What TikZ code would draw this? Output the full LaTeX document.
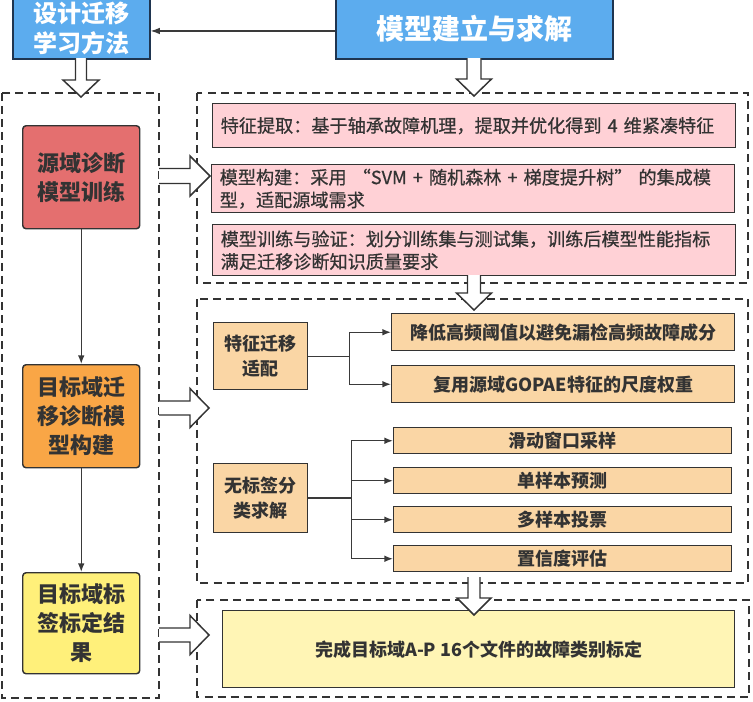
\documentclass[tikz,border=0pt]{standalone}
\usepackage{fontspec}
\setmainfont{Noto Sans CJK SC}
\newfontfamily\medfont{Noto Sans CJK SC}[FakeBold=0.6]
\usetikzlibrary{arrows.meta}
\definecolor{txt}{HTML}{333333}
\definecolor{bordc}{HTML}{333333}
\definecolor{bluec}{HTML}{5CACEE}
\definecolor{blueb}{HTML}{1F3550}
\definecolor{redc}{HTML}{E46F6F}
\definecolor{orangec}{HTML}{F9A646}
\definecolor{yellowc}{HTML}{FFF07A}
\definecolor{pinkc}{HTML}{FFD1D6}
\definecolor{lorange}{HTML}{FAD6A5}
\definecolor{lyellow}{HTML}{FFF5B5}
\definecolor{linec}{HTML}{3A3A3A}
\newcommand\hollowdown[6]{%
  \draw[hollow] (#1-#5,#2) -- (#1-#5,#3) -- (#1-#6,#3) -- (#1,#4) -- (#1+#6,#3) -- (#1+#5,#3) -- (#1+#5,#2);}
\newcommand\hollowright[6]{%
  \draw[hollow] (#2,#1-#5) -- (#3,#1-#5) -- (#3,#1-#6) -- (#4,#1) -- (#3,#1+#6) -- (#3,#1+#5) -- (#2,#1+#5);}
\begin{document}
\begin{tikzpicture}[x=0.75pt,y=-0.75pt,
  box/.style={draw=bordc, line width=1.1pt, inner sep=0pt, anchor=north west, align=center, text=txt},
  bluebox/.style={draw=blueb, line width=1.2pt, fill=bluec, inner sep=0pt, anchor=north west, align=center, text=white, font=\bfseries},
  leftbox/.style={box, rounded corners=2.5pt, minimum width=87.75pt, minimum height=77.25pt,
     font=\fontsize{16.5pt}{21.5pt}\selectfont\bfseries},
  pinkbox/.style={box, fill=pinkc, minimum width=392.25pt, text width=380.25pt, inner xsep=6pt, align=left,
     font=\fontsize{13.6pt}{17pt}\selectfont\medfont},
  obox/.style={box, fill=lorange, font=\fontsize{13.5pt}{19pt}\selectfont\bfseries},
  dashbox/.style={draw=bordc, line width=1.1pt, dash pattern=on 6pt off 3.8pt},
  hollow/.style={draw=bordc, line width=1.1pt, fill=white, line join=miter},
  conn/.style={draw=linec, line width=1pt, -{Latex[length=6.5pt,width=5pt]}},
]
\useasboundingbox (0,0) rectangle (753,701);

% top title boxes
\node[bluebox, minimum width=102.75pt, minimum height=45.75pt,
  font=\fontsize{18pt}{23pt}\selectfont\bfseries] (t1) at (12,-3) {设计迁移\\学习方法};
\node[bluebox, minimum width=207.75pt, minimum height=45.75pt,
  font=\fontsize{21pt}{25pt}\selectfont\bfseries] (t2) at (335,-3) {\raisebox{-2pt}{模型建立与求解}};
\draw[draw=linec, line width=0.9pt, -{Latex[length=7pt,width=5pt]}] ([yshift=-2pt]t2.west) -- ([yshift=-2pt]t1.east);

% dashed frames
\draw[dashbox] (2,93) rectangle (159,698);
\draw[dashbox] (197,93) rectangle (748,283);
\draw[dashbox] (197,299) rectangle (748,583);
\draw[dashbox] (197,600) rectangle (749,697);

% left column
\node[leftbox, fill=redc] (L1) at (22,125) {源域诊断\\模型训练};
\node[leftbox, fill=orangec] (L2) at (22,364) {目标域迁\\移诊断模\\型构建};
\node[leftbox, fill=yellowc, minimum height=75.75pt] (L3) at (22,572) {目标域标\\签标定结\\果};
\draw[conn] (L1.south) -- (L2.north);
\draw[conn] (L2.south) -- (L3.north);

% pink boxes
\node[pinkbox, minimum height=33pt] (P1) at (212,103) {特征提取：基于轴承故障机理，提取并优化得到 4 维紧凑特征};
\node[pinkbox, minimum height=36pt] (P2) at (211,164) {模型构建：采用 “SVM + 随机森林 + 梯度提升树” 的集成模\\型，适配源域需求};
\node[pinkbox, minimum height=38.25pt] (P3) at (212,224) {模型训练与验证：划分训练集与测试集，训练后模型性能指标\\满足迁移诊断知识质量要求};

% feature transfer
\node[obox, minimum width=70.5pt, minimum height=50.25pt] (O1) at (213,322) {特征迁移\\适配};
\node[obox, minimum width=257.25pt, minimum height=27.75pt] (A) at (391,313) {降低高频阈值以避免漏检高频故障成分};
\node[obox, minimum width=257.25pt, minimum height=27.75pt] (B) at (391,365) {复用源域GOPAE特征的尺度权重};
\coordinate (j1) at ([xshift=30.75pt]O1.east);
\draw[draw=linec, line width=1pt] (O1.east) -- (j1);
\draw[conn] (j1) |- (A.west);
\draw[conn] (j1) |- (B.west);

% unlabeled classification
\node[obox, minimum width=70.5pt, minimum height=51.75pt] (O2) at (213,463) {无标签分\\类求解};
\node[obox, minimum width=253.5pt, minimum height=19.5pt] (S1) at (393,427) {滑动窗口采样};
\node[obox, minimum width=253.5pt, minimum height=19.5pt] (S2) at (393,467) {单样本预测};
\node[obox, minimum width=253.5pt, minimum height=19.5pt] (S3) at (393,506) {多样本投票};
\node[obox, minimum width=253.5pt, minimum height=19.5pt] (S4) at (393,545) {置信度评估};
\coordinate (j2) at ([xshift=32.25pt]O2.east);
\draw[draw=linec, line width=1.6pt] (O2.east) -- (j2);
\draw[conn] (j2) |- (S1.west);
\draw[conn] (j2) |- (S2.west);
\draw[conn] (j2) |- (S3.west);
\draw[conn] (j2) |- (S4.west);

% result
\node[box, fill=lyellow, minimum width=384pt, minimum height=57.75pt,
  font=\fontsize{13.5pt}{17pt}\selectfont\bfseries] (Y) at (222,610) {完成目标域A-P 16个文件的故障类别标定};

% hollow arrows
\hollowdown{81}{58}{80}{97}{5.5}{18}
\hollowdown{474}{58}{79}{96}{7}{17.5}
\hollowdown{474}{275}{293}{310}{6.5}{17.5}
\hollowdown{474}{577}{598}{615}{6}{17}
\hollowright{176}{159}{190}{210}{7.5}{20}
\hollowright{408}{159}{190}{209}{7}{19.5}
\hollowright{635}{159}{190}{209}{7}{19.5}
\end{tikzpicture}
\end{document}
